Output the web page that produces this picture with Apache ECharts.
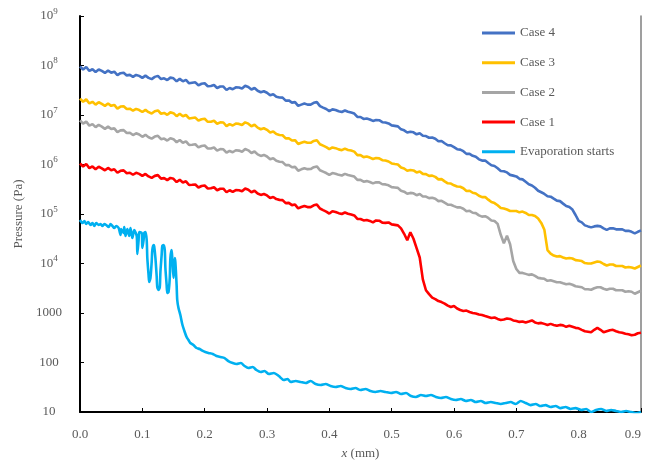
<!DOCTYPE html>
<html>
<head>
<meta charset="utf-8">
<script src="https://cdn.jsdelivr.net/npm/echarts@6/dist/echarts.min.js"></script>
<style>
  html, body { margin: 0; padding: 0; background: #ffffff; }
  #chart { width: 652px; height: 468px; }
</style>
</head>
<body>
<div id="chart"></div>
<script>
// Sampling positions along the channel (mm) shared by the four cases
const xGrid = [
  0.000, 0.005, 0.010, 0.015, 0.020, 0.025, 0.030, 0.035, 0.040, 0.045,
  0.050, 0.055, 0.060, 0.065, 0.070, 0.075, 0.080, 0.085, 0.090, 0.095,
  0.100, 0.105, 0.110, 0.115, 0.120, 0.125, 0.130, 0.135, 0.140, 0.145,
  0.150, 0.155, 0.160, 0.165, 0.170, 0.175, 0.180, 0.185, 0.190, 0.195,
  0.200, 0.205, 0.210, 0.215, 0.220, 0.225, 0.230, 0.235, 0.240, 0.245,
  0.250, 0.255, 0.260, 0.265, 0.270, 0.275, 0.280, 0.285, 0.290, 0.295,
  0.300, 0.305, 0.310, 0.315, 0.320, 0.325, 0.330, 0.335, 0.340, 0.345,
  0.350, 0.355, 0.360, 0.365, 0.370, 0.375, 0.380, 0.385, 0.390, 0.395,
  0.400, 0.405, 0.410, 0.415, 0.420, 0.425, 0.430, 0.435, 0.440, 0.445,
  0.450, 0.455, 0.460, 0.465, 0.470, 0.475, 0.480, 0.485, 0.490, 0.495,
  0.500, 0.505, 0.510, 0.515, 0.520, 0.525, 0.530, 0.535, 0.540, 0.545,
  0.550, 0.555, 0.560, 0.565, 0.570, 0.575, 0.580, 0.585, 0.590, 0.595,
  0.600, 0.605, 0.610, 0.615, 0.620, 0.625, 0.630, 0.635, 0.640, 0.645,
  0.650, 0.655, 0.660, 0.665, 0.670, 0.675, 0.680, 0.685, 0.690, 0.695,
  0.700, 0.705, 0.710, 0.715, 0.720, 0.725, 0.730, 0.735, 0.740, 0.745,
  0.750, 0.755, 0.760, 0.765, 0.770, 0.775, 0.780, 0.785, 0.790, 0.795,
  0.800, 0.805, 0.810, 0.815, 0.820, 0.825, 0.830, 0.835, 0.840, 0.845,
  0.850, 0.855, 0.860, 0.865, 0.870, 0.875, 0.880, 0.885, 0.890, 0.895,
  0.900
];

// Pressure (Pa) at each xGrid position
const case4 = [
  9.55e7, 8.32e7, 9.33e7, 7.76e7, 8.4e7, 7.41e7, 8.32e7, 7.76e7, 7.08e7, 7.94e7,
  7.16e7, 7.5e7, 6.38e7, 7.0e7, 7.16e7, 6.31e7, 6.46e7, 5.89e7, 6.46e7, 6.17e7,
  5.62e7, 6.24e7, 5.62e7, 5.31e7, 5.89e7, 6.17e7, 5.31e7, 5.5e7, 5.07e7, 5.69e7,
  5.5e7, 4.79e7, 5.37e7, 4.79e7, 5.13e7, 4.37e7, 4.47e7, 4.57e7, 3.98e7, 4.27e7,
  4.37e7, 3.8e7, 3.85e7, 4.03e7, 3.51e7, 3.76e7, 3.76e7, 3.2e7, 3.51e7, 3.31e7,
  3.63e7, 3.59e7, 3.43e7, 3.89e7, 3.67e7, 3.27e7, 3.51e7, 3.09e7, 2.88e7, 3.02e7,
  2.82e7, 2.51e7, 2.63e7, 2.34e7, 2.26e7, 2.24e7, 1.95e7, 1.97e7, 1.78e7, 1.82e7,
  1.53e7, 1.62e7, 1.7e7, 1.62e7, 1.62e7, 1.76e7, 1.82e7, 1.51e7, 1.41e7, 1.32e7,
  1.2e7, 1.3e7, 1.26e7, 1.19e7, 1.15e7, 1.23e7, 1.16e7, 1.12e7, 1.07e7, 9.12e6,
  9.12e6, 8.32e6, 8.51e6, 8.13e6, 7.59e6, 7.94e6, 7.85e6, 7.16e6, 7.08e6, 6.76e6,
  6.17e6, 6.03e6, 5.89e6, 5.13e6, 4.9e6, 4.42e6, 4.57e6, 4.47e6, 4.07e6, 4.27e6,
  3.8e6, 3.76e6, 3.47e6, 3.51e6, 3.31e6, 2.95e6, 2.99e6, 2.69e6, 2.45e6, 2.43e6,
  2.24e6, 2.04e6, 2.0e6, 1.86e6, 1.64e6, 1.64e6, 1.5e6, 1.43e6, 1.27e6, 1.2e6,
  1.2e6, 1.07e6, 9.66e5, 9.33e5, 8.41e5, 7.41e5, 7.33e5, 6.92e5, 6.17e5, 5.96e5,
  5.75e5, 5.13e5, 5.01e5, 4.47e5, 3.98e5, 3.76e5, 3.39e5, 2.95e5, 2.75e5, 2.54e5,
  2.29e5, 2.24e5, 2.04e5, 1.86e5, 1.82e5, 1.62e5, 1.45e5, 1.38e5, 1.23e5, 9.55e4,
  7.24e4, 6.76e4, 5.89e4, 5.62e4, 5.37e4, 5.62e4, 5.75e4, 5.62e4, 5.13e4, 4.79e4,
  5.13e4, 5.13e4, 4.9e4, 4.9e4, 4.9e4, 4.57e4, 4.57e4, 4.37e4, 4.07e4, 4.37e4,
  4.68e4
];

const case3 = [
  2.14e7, 1.85e7, 2.07e7, 1.71e7, 1.85e7, 1.62e7, 1.81e7, 1.68e7, 1.53e7, 1.71e7,
  1.53e7, 1.6e7, 1.35e7, 1.48e7, 1.5e7, 1.32e7, 1.34e7, 1.22e7, 1.33e7, 1.26e7,
  1.15e7, 1.27e7, 1.14e7, 1.07e7, 1.19e7, 1.24e7, 1.06e7, 1.1e7, 1.01e7, 1.13e7,
  1.09e7, 9.46e6, 1.06e7, 9.42e6, 1.0e7, 8.53e6, 8.71e6, 8.87e6, 7.71e6, 8.22e6,
  8.38e6, 7.28e6, 7.33e6, 7.64e6, 6.64e6, 7.08e6, 7.05e6, 5.98e6, 6.53e6, 6.14e6,
  6.71e6, 6.61e6, 6.28e6, 7.11e6, 6.68e6, 5.93e6, 6.34e6, 5.56e6, 5.16e6, 5.4e6,
  5.01e6, 4.45e6, 4.63e6, 4.11e6, 3.95e6, 3.89e6, 3.37e6, 3.4e6, 3.05e6, 3.1e6,
  2.6e6, 2.75e6, 2.88e6, 2.75e6, 2.75e6, 2.99e6, 3.09e6, 2.57e6, 2.4e6, 2.24e6,
  2.04e6, 2.21e6, 2.14e6, 2.02e6, 1.95e6, 2.09e6, 1.97e6, 1.91e6, 1.82e6, 1.55e6,
  1.55e6, 1.41e6, 1.45e6, 1.38e6, 1.29e6, 1.35e6, 1.33e6, 1.22e6, 1.2e6, 1.15e6,
  1.05e6, 1.02e6, 1.0e6, 8.71e5, 8.32e5, 7.5e5, 7.76e5, 7.59e5, 6.92e5, 7.24e5,
  6.46e5, 6.38e5, 5.89e5, 5.96e5, 5.62e5, 5.01e5, 5.07e5, 4.57e5, 4.17e5, 4.12e5,
  3.8e5, 3.59e5, 3.55e5, 3.31e5, 2.92e5, 2.95e5, 2.69e5, 2.6e5, 2.34e5, 2.19e5,
  2.21e5, 1.95e5, 1.74e5, 1.66e5, 1.5e5, 1.32e5, 1.29e5, 1.23e5, 1.15e5, 1.15e5,
  1.15e5, 1.08e5, 1.12e5, 1.05e5, 9.55e4, 9.55e4, 9.12e4, 8.13e4, 6.61e4, 4.79e4,
  1.86e4, 1.58e4, 1.45e4, 1.38e4, 1.41e4, 1.32e4, 1.26e4, 1.29e4, 1.26e4, 1.17e4,
  1.15e4, 1.12e4, 1.02e4, 1.0e4, 1.0e4, 1.05e4, 1.1e4, 1.07e4, 9.77e3, 9.12e3,
  9.55e3, 9.55e3, 8.91e3, 8.91e3, 8.91e3, 8.32e3, 8.51e3, 8.32e3, 7.94e3, 8.51e3,
  9.12e3
];

const case2 = [
  7.76e6, 6.68e6, 7.41e6, 6.1e6, 6.53e6, 5.69e6, 6.31e6, 5.82e6, 5.25e6, 5.82e6,
  5.19e6, 5.37e6, 4.52e6, 4.9e6, 4.95e6, 4.32e6, 4.37e6, 3.94e6, 4.27e6, 4.03e6,
  3.63e6, 3.98e6, 3.56e6, 3.34e6, 3.67e6, 3.8e6, 3.25e6, 3.34e6, 3.05e6, 3.39e6,
  3.25e6, 2.81e6, 3.13e6, 2.75e6, 2.93e6, 2.48e6, 2.51e6, 2.56e6, 2.22e6, 2.37e6,
  2.42e6, 2.1e6, 2.11e6, 2.2e6, 1.91e6, 2.04e6, 2.03e6, 1.73e6, 1.88e6, 1.77e6,
  1.94e6, 1.91e6, 1.81e6, 2.05e6, 1.93e6, 1.71e6, 1.83e6, 1.6e6, 1.49e6, 1.56e6,
  1.45e6, 1.28e6, 1.34e6, 1.19e6, 1.14e6, 1.12e6, 9.73e5, 9.79e5, 8.79e5, 8.95e5,
  7.5e5, 7.98e5, 8.39e5, 8.05e5, 8.09e5, 8.81e5, 9.16e5, 7.66e5, 7.18e5, 6.73e5,
  6.17e5, 6.71e5, 6.52e5, 6.18e5, 6.0e5, 6.46e5, 6.12e5, 5.94e5, 5.7e5, 4.88e5,
  4.9e5, 4.49e5, 4.62e5, 4.44e5, 4.16e5, 4.38e5, 4.36e5, 3.99e5, 3.96e5, 3.8e5,
  3.49e5, 3.43e5, 3.37e5, 2.95e5, 2.83e5, 2.56e5, 2.67e5, 2.62e5, 2.4e5, 2.53e5,
  2.26e5, 2.25e5, 2.09e5, 2.13e5, 2.03e5, 1.82e5, 1.85e5, 1.69e5, 1.55e5, 1.54e5,
  1.44e5, 1.36e5, 1.36e5, 1.28e5, 1.14e5, 1.16e5, 1.06e5, 1.04e5, 9.4e4, 8.85e4,
  9.02e4, 8.32e4, 7.41e4, 7.24e4, 6.31e4, 3.8e4, 2.57e4, 3.63e4, 2.45e4, 1.12e4,
  7.76e3, 6.46e3, 6.46e3, 6.17e3, 5.89e3, 6.03e3, 5.62e3, 5.13e3, 5.01e3, 4.9e3,
  4.47e3, 4.57e3, 4.37e3, 4.17e3, 4.17e3, 3.98e3, 3.8e3, 3.89e3, 3.72e3, 3.47e3,
  3.39e3, 3.31e3, 3.02e3, 3.02e3, 2.95e3, 3.16e3, 3.31e3, 3.31e3, 3.09e3, 2.95e3,
  3.09e3, 3.09e3, 2.88e3, 2.88e3, 2.88e3, 2.69e3, 2.75e3, 2.69e3, 2.45e3, 2.63e3,
  2.82e3
];

const case1 = [
  1.05e6, 9.1e5, 1.02e6, 8.45e5, 9.14e5, 8.04e5, 9.0e5, 8.38e5, 7.62e5, 8.53e5,
  7.67e5, 8.02e5, 6.81e5, 7.45e5, 7.6e5, 6.68e5, 6.82e5, 6.21e5, 6.79e5, 6.47e5,
  5.89e5, 6.46e5, 5.75e5, 5.37e5, 5.89e5, 6.1e5, 5.19e5, 5.31e5, 4.84e5, 5.37e5,
  5.13e5, 4.42e5, 4.9e5, 4.32e5, 4.57e5, 3.85e5, 3.89e5, 3.94e5, 3.43e5, 3.67e5,
  3.76e5, 3.27e5, 3.31e5, 3.47e5, 3.02e5, 3.24e5, 3.24e5, 2.75e5, 3.02e5, 2.79e5,
  3.05e5, 3.02e5, 2.88e5, 3.27e5, 3.09e5, 2.75e5, 2.95e5, 2.6e5, 2.43e5, 2.54e5,
  2.37e5, 2.11e5, 2.21e5, 2.0e5, 1.93e5, 1.91e5, 1.66e5, 1.68e5, 1.51e5, 1.55e5,
  1.3e5, 1.38e5, 1.45e5, 1.38e5, 1.38e5, 1.5e5, 1.55e5, 1.29e5, 1.2e5, 1.12e5,
  1.02e5, 1.14e5, 1.1e5, 1.04e5, 1.0e5, 1.07e5, 1.01e5, 9.77e4, 9.33e4, 7.94e4,
  7.94e4, 7.41e4, 7.59e4, 7.24e4, 6.76e4, 7.41e4, 7.33e4, 6.68e4, 6.61e4, 6.76e4,
  6.17e4, 6.03e4, 5.89e4, 5.13e4, 3.98e4, 2.95e4, 4.27e4, 3.16e4, 2.04e4, 1.32e4,
  4790, 2880, 2400, 2040, 1910, 1740, 1660, 1550, 1410, 1320,
  1380, 1230, 1150, 1100, 1120, 1050, 1000, 977, 933, 912,
  871, 832, 794, 813, 759, 724, 741, 776, 759, 708,
  692, 661, 676, 646, 676, 708, 646, 617, 631, 603,
  575, 603, 575, 550, 575, 562, 525, 550, 525, 501,
  490, 457, 427, 417, 407, 457, 501, 457, 407, 427,
  447, 457, 427, 407, 398, 380, 372, 355, 363, 389,
  398
];

// "Evaporation starts" is sampled more finely through the oscillating zone
const evapX = [
  0.000, 0.004, 0.007, 0.010, 0.013, 0.017, 0.020, 0.023, 0.026, 0.030,
  0.033, 0.036, 0.039, 0.042, 0.046, 0.049, 0.052, 0.055, 0.058, 0.062,
  0.065, 0.066, 0.070, 0.071, 0.073, 0.076, 0.079, 0.081, 0.084, 0.087,
  0.091, 0.092, 0.094, 0.095,
  0.099, 0.100, 0.102, 0.103, 0.105, 0.107, 0.108, 0.110, 0.111, 0.113,
  0.115, 0.116, 0.118, 0.119, 0.121, 0.123, 0.124, 0.126, 0.128, 0.129,
  0.131, 0.132, 0.134, 0.136, 0.137, 0.139, 0.140, 0.142, 0.144, 0.145,
  0.147, 0.148, 0.150, 0.152, 0.153, 0.155, 0.156, 0.158,
  0.161, 0.164, 0.168, 0.171, 0.174, 0.177,
  0.182, 0.187, 0.192, 0.197, 0.201, 0.206,
  0.213, 0.219, 0.225, 0.232, 0.238, 0.245, 0.251, 0.258, 0.264, 0.270,
  0.277, 0.283, 0.290, 0.296, 0.303,
  0.311, 0.319, 0.327, 0.333, 0.338, 0.346,
  0.354, 0.362, 0.370, 0.378, 0.386, 0.394, 0.402, 0.410, 0.418, 0.426,
  0.434, 0.442, 0.450, 0.458, 0.466, 0.474, 0.482, 0.490, 0.499, 0.507,
  0.515, 0.523, 0.531, 0.539, 0.547, 0.555, 0.563, 0.571, 0.579, 0.587,
  0.595, 0.603, 0.611, 0.619, 0.627, 0.635, 0.643, 0.651, 0.659, 0.667,
  0.675, 0.683, 0.691, 0.699, 0.707, 0.715, 0.723, 0.731, 0.739, 0.747,
  0.755, 0.763, 0.771, 0.779, 0.787, 0.795, 0.804, 0.812, 0.820, 0.828,
  0.836, 0.844, 0.852, 0.860, 0.868, 0.876, 0.884, 0.892, 0.900
];
const evapP = [
  7.57e4, 6.58e4, 7.23e4, 6.28e4, 6.89e4, 6.0e4, 6.58e4, 5.73e4, 6.58e4, 6.0e4,
  6.28e4, 5.73e4, 6.28e4, 6.0e4, 5.46e4, 6.28e4, 5.73e4, 5.21e4, 5.73e4, 5.21e4,
  3.77e4, 4.98e4, 4.13e4, 5.46e4, 3.6e4, 4.98e4, 3.6e4, 5.21e4, 3.27e4, 4.75e4,
  3.6e4, 1.56e4, 2.98e4, 4.33e4,
  4.13e4, 2.06e4, 2.98e4, 4.13e4, 4.33e4, 2.98e4, 1.29e4, 5860, 4230, 5090,
  1.07e4, 1.87e4, 2.36e4, 2.25e4, 1.29e4, 5590, 3350, 2920, 3350, 6730,
  1.49e4, 2.25e4, 2.36e4, 1.87e4, 8110, 3680, 2540, 2650, 5090, 1.29e4,
  1.87e4, 1.29e4, 5090, 1.29e4, 1.07e4, 3680, 1830, 1260,
  912, 600, 413, 327, 285, 248,
  226, 196, 187, 171, 163, 156,
  149, 135, 129, 123, 107, 97.7, 93.3, 97.7, 84.9, 77.4,
  81.1, 70.5, 64.3, 67.3, 58.6,
  61.4, 53.3, 44.3, 46.4, 40.4, 42.3,
  40.4, 38.5, 42.3, 36.8, 35.1, 36.8, 33.5, 32.0, 33.5, 30.5,
  29.2, 30.5, 27.8, 29.2, 26.5, 25.4, 26.5, 25.4, 24.2, 25.4,
  23.1, 24.2, 21.0, 20.1, 22.0, 21.0, 22.0, 20.1, 19.2, 20.1,
  18.3, 17.5, 18.3, 16.7, 17.5, 15.9, 16.7, 15.2, 15.9, 15.2,
  14.5, 15.2, 15.9, 14.5, 16.7, 15.2, 13.8, 14.5, 13.2, 13.8,
  12.6, 13.2, 12.0, 12.6, 11.5, 12.0, 11.0, 11.5, 10.0, 11.0,
  11.5, 10.5, 11.0, 10.5, 10.0, 10.5, 10.0, 9.55, 10.0
];

// Axis tick labels; "10|n" is rendered as 10 with superscript n
const xTickLabels = ['0.0', '0.1', '0.2', '0.3', '0.4', '0.5', '0.6', '0.7', '0.8', '0.9'];
const yTickLabels = ['10', '100', '1000', '10|4', '10|5', '10|6', '10|7', '10|8', '10|9'];

const seriesNames = ['Case 4', 'Case 3', 'Case 2', 'Case 1', 'Evaporation starts'];
const seriesColors = ['#4472C4', '#FFC000', '#A5A5A5', '#FF0000', '#00B0F0'];

const FONT = "'Liberation Serif', 'Times New Roman', serif";
const TEXT_GREY = '#595959';

function pairs(xs, ys) {
  return xs.map(function (x, i) { return [x, ys[i]]; });
}

const seriesData = [
  pairs(xGrid, case4),
  pairs(xGrid, case3),
  pairs(xGrid, case2),
  pairs(xGrid, case1),
  pairs(evapX, evapP)
];

const chart = echarts.init(document.getElementById('chart'), null, { renderer: 'canvas' });

const series = seriesNames.map(function (name, k) {
  return {
    name: name,
    type: 'line',
    data: seriesData[k],
    showSymbol: false,
    symbol: 'none',
    smooth: k === 4 ? 0.25 : false,
    color: seriesColors[k],
    lineStyle: { color: seriesColors[k], width: 2.6 },
    itemStyle: { color: seriesColors[k] },
    z: 2 + k,
    clip: true
  };
});

chart.setOption({
  animation: false,
  backgroundColor: '#ffffff',
  grid: { left: 80, right: 11, top: 16, bottom: 56, containLabel: false },
  legend: {
    data: seriesNames,
    orient: 'vertical',
    left: 482,
    top: 26.5,
    padding: 0,
    icon: 'rect',
    itemWidth: 33,
    itemHeight: 3,
    itemGap: 16.7,
    itemTextGap: 3,
    textStyle: { fontFamily: FONT, fontSize: 13, color: TEXT_GREY }
  },
  xAxis: {
    type: 'value',
    min: 0,
    max: 0.9,
    interval: 0.1,
    name: '{i|x} (mm)',
    nameLocation: 'middle',
    nameGap: 35,
    nameTextStyle: {
      fontFamily: FONT, fontSize: 13, color: TEXT_GREY,
      rich: { i: { fontFamily: FONT, fontSize: 13, fontStyle: 'italic', color: TEXT_GREY } }
    },
    axisLine: { show: true, onZero: false, lineStyle: { color: '#000000', width: 2 } },
    axisTick: { show: true, inside: true, length: 4, lineStyle: { color: '#000000', width: 1 } },
    axisLabel: {
      margin: 16,
      fontFamily: FONT, fontSize: 13, color: TEXT_GREY,
      alignMaxLabel: 'right',
      formatter: function (v) { return xTickLabels[Math.round(v * 10)]; }
    },
    splitLine: { show: false }
  },
  yAxis: [
    {
      type: 'log',
      logBase: 10,
      min: 10,
      max: 1e9,
      splitNumber: 8,
      name: 'Pressure (Pa)',
      nameLocation: 'middle',
      nameRotate: 90,
      nameGap: 51,
      nameTextStyle: { fontFamily: FONT, fontSize: 13, color: TEXT_GREY },
      axisLine: { show: true, lineStyle: { color: '#000000', width: 2 } },
      axisTick: { show: true, inside: true, length: 4, lineStyle: { color: '#000000', width: 1 } },
      axisLabel: {
        margin: 31,
        align: 'center',
        fontFamily: FONT, fontSize: 13, color: TEXT_GREY,
        formatter: function (v) {
          const t = yTickLabels[Math.round(Math.log10(v)) - 1];
          if (!t) return '';
          const parts = t.split('|');
          return parts.length > 1 ? '{b|' + parts[0] + '}{s|' + parts[1] + '}' : '{b|' + t + '}';
        },
        rich: {
          b: { fontFamily: FONT, fontSize: 13, color: TEXT_GREY },
          s: { fontFamily: FONT, fontSize: 9, color: TEXT_GREY, padding: [0, 0, 9, 0] }
        }
      },
      splitLine: { show: false }
    },
    {
      type: 'log',
      logBase: 10,
      min: 10,
      max: 1e9,
      position: 'right',
      axisLine: { show: true, lineStyle: { color: '#7F7F7F', width: 1.5 } },
      axisTick: { show: false },
      axisLabel: { show: false },
      splitLine: { show: false }
    }
  ],
  series: series
});
</script>
</body>
</html>
